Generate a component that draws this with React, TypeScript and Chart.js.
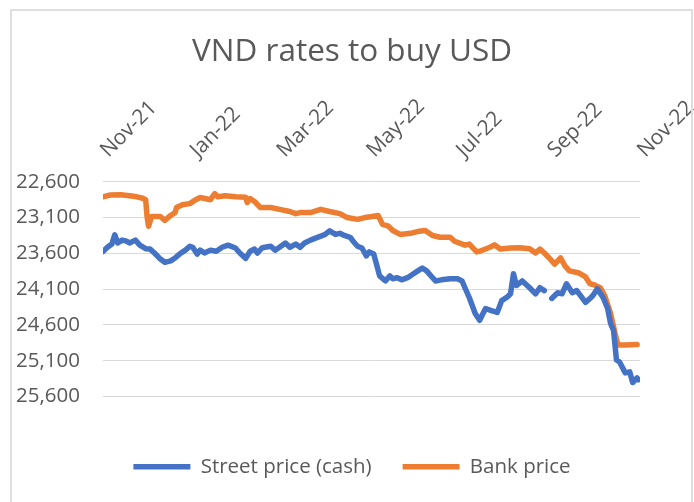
import React, { useEffect, useRef } from "react";
import { Chart, registerables } from "chart.js";

Chart.register(...registerables);

const chartTitle = "VND rates to buy USD";
const seriesNames = ["Street price (cash)", "Bank price"];

// x axis: days counted from 1 Nov 2021
const monthTickDays = [0, 61, 120, 181, 242, 304, 365];
const monthTickLabels = ["Nov-21", "Jan-22", "Mar-22", "May-22", "Jul-22", "Sep-22", "Nov-22"];
const yTickValues = [22600, 23100, 23600, 24100, 24600, 25100, 25600];

const streetDays = [
  0, 3, 6, 8, 10, 13, 16, 18, 22, 25, 29, 32, 35, 39, 42, 46, 49, 52, 56, 59,
  61, 64, 66, 69, 73, 77, 81, 85, 90, 93, 97, 100, 103, 105, 108, 110, 114, 117, 120, 124,
  127, 131, 134, 137, 141, 144, 148, 151, 154, 158, 161, 164, 168, 170, 173, 176, 179, 181, 184, 186,
  188, 192, 195, 197, 200, 203, 207, 211, 214, 217, 220, 224, 226, 230, 236, 241, 244, 246, 249, 253,
  256, 260, 264, 268, 271, 275, 277, 279, 281, 285, 290, 294, 297, 300, 302, 305, 309, 312, 315, 319,
  322, 328, 331, 333, 336, 340, 343, 345, 347, 349, 351, 355, 358, 360, 363, 364,
];
const streetRates: (number | null)[] = [
  23575, 23515, 23470, 23340, 23455, 23415, 23430, 23455, 23415, 23485, 23535, 23540, 23595, 23680, 23725, 23705, 23665, 23610, 23555, 23500,
  23515, 23610, 23555, 23595, 23555, 23570, 23515, 23485, 23525, 23595, 23670, 23570, 23540, 23595, 23525, 23515, 23500, 23555, 23515, 23455,
  23515, 23470, 23515, 23455, 23415, 23390, 23360, 23335, 23285, 23335, 23320, 23350, 23375, 23430, 23500, 23525, 23635, 23580, 23610, 23760,
  23915, 23985, 23915, 23955, 23940, 23970, 23940, 23885, 23845, 23805, 23845, 23940, 23985, 23970, 23955, 23955, 23985, 24080, 24220, 24440,
  24535, 24370, 24400, 24425, 24260, 24205, 24165, 23885, 24050, 23985, 24080, 24165, 24080, 24120, null, 24230, 24150, 24165, 24025, 24150,
  24120, 24285, 24230, 24190, 24095, 24220, 24370, 24580, 24675, 25090, 25115, 25270, 25255, 25405, 25340, 25365,
];

const bankDays = [
  0, 5, 12, 18, 23, 27, 29, 30, 31, 33, 39, 42, 46, 49, 50, 54, 59, 63, 66, 73,
  76, 78, 83, 90, 97, 98, 100, 103, 107, 109, 114, 120, 127, 131, 134, 141, 148, 154, 161, 166,
  173, 178, 183, 187, 190, 194, 197, 202, 209, 215, 219, 224, 229, 236, 239, 246, 249, 254, 256, 263,
  266, 270, 277, 283, 290, 294, 297, 300, 304, 307, 311, 314, 317, 323, 328, 331, 334, 338, 341, 345,
  348, 350, 355, 363,
];
const bankRates = [
  22810, 22785, 22780, 22795, 22810, 22830, 22850, 23100, 23220, 23085, 23085, 23140, 23070, 23030, 22960, 22920, 22905, 22850, 22820, 22850,
  22765, 22810, 22795, 22810, 22815, 22890, 22835, 22875, 22960, 22960, 22960, 22985, 23015, 23045, 23030, 23030, 22985, 23015, 23045, 23100,
  23125, 23100, 23085, 23070, 23195, 23220, 23280, 23335, 23320, 23290, 23280, 23350, 23375, 23375, 23430, 23485, 23470, 23580, 23570, 23515,
  23480, 23540, 23525, 23520, 23535, 23595, 23540, 23595, 23680, 23750, 23665, 23775, 23845, 23870, 23930, 24025, 24040, 24080, 24190, 24440,
  24715, 24880, 24880, 24875,
];

const FONT = "'Open Sans', sans-serif";
const TEXT = "#595959";

export default function App() {
  const ref = useRef<HTMLCanvasElement>(null);

  useEffect(() => {
    const canvas = ref.current;
    if (!canvas) return;
    const chart = new Chart(canvas, {
      type: "line",
      data: {
        datasets: [
          {
            label: seriesNames[0],
            data: streetDays.map((d, i) => ({ x: d, y: streetRates[i] })) as any,
            borderColor: "#4472C4",
            backgroundColor: "#4472C4",
            borderWidth: 5.5,
            pointRadius: 0,
            borderCapStyle: "round",
            borderJoinStyle: "round",
            spanGaps: false,
            tension: 0,
          },
          {
            label: seriesNames[1],
            data: bankDays.map((d, i) => ({ x: d, y: bankRates[i] })),
            borderColor: "#ED7D31",
            backgroundColor: "#ED7D31",
            borderWidth: 5.5,
            pointRadius: 0,
            borderCapStyle: "round",
            borderJoinStyle: "round",
            tension: 0,
          },
        ],
      },
      options: {
        animation: false,
        responsive: false,
        maintainAspectRatio: false,
        layout: { padding: { left: 10, right: 0, top: 10, bottom: 15 } },
        scales: {
          x: {
            type: "linear",
            position: "top",
            min: 0,
            max: 365,
            afterBuildTicks: (s: any) => {
              s.ticks = monthTickDays.map((v) => ({ value: v }));
            },
            afterFit: (s: any) => {
              s.height = 111;
              s.paddingLeft = 0;
              s.paddingRight = 54;
            },
            ticks: {
              autoSkip: false,
              minRotation: 45,
              maxRotation: 45,
              padding: 11,
              labelOffset: 19,
              color: TEXT,
              font: { family: FONT, size: 21 },
              callback: (_v: any, i: number) => monthTickLabels[i],
            },
            grid: { display: false },
            border: { display: false },
          },
          y: {
            type: "linear",
            reverse: true,
            min: 22600,
            max: 25600,
            afterBuildTicks: (s: any) => {
              s.ticks = yTickValues.map((v) => ({ value: v }));
            },
            afterFit: (s: any) => {
              s.width = 93;
            },
            ticks: {
              padding: 23,
              color: TEXT,
              font: { family: FONT, size: 20.5 },
              callback: (v: any) => Number(v).toLocaleString("en-US"),
            },
            grid: { color: "#d9d9d9", lineWidth: 1, drawTicks: false },
            border: { display: false },
          },
        },
        plugins: {
          title: {
            display: true,
            text: chartTitle,
            color: TEXT,
            font: { family: FONT, size: 31.5, weight: "normal" },
            padding: { top: 23, bottom: 0 },
          },
          legend: {
            position: "bottom",
            title: {
              display: true,
              text: "",
              padding: { top: 28, bottom: 0 },
              font: { size: 1, lineHeight: 1 },
            },
            labels: {
              usePointStyle: true,
              pointStyle: "line",
              pointStyleWidth: 57,
              boxHeight: 20.5,
              padding: 31,
              color: TEXT,
              font: { family: FONT, size: 20.5 },
            },
          },
          tooltip: { enabled: false },
        },
      } as any,
    });
    return () => chart.destroy();
  }, []);

  return (
    <div style={{ position: "fixed", left: 0, top: 0, width: 694, height: 502, background: "#fff", overflow: "hidden" }}>
      <canvas ref={ref} width={694} height={502} style={{ display: "block", width: 694, height: 502 }} />
      <div
        style={{
          position: "absolute",
          left: 10,
          top: 9,
          width: 683,
          height: 600,
          border: "2px solid #dedede",
          boxSizing: "border-box",
          pointerEvents: "none",
        }}
      />
    </div>
  );
}
